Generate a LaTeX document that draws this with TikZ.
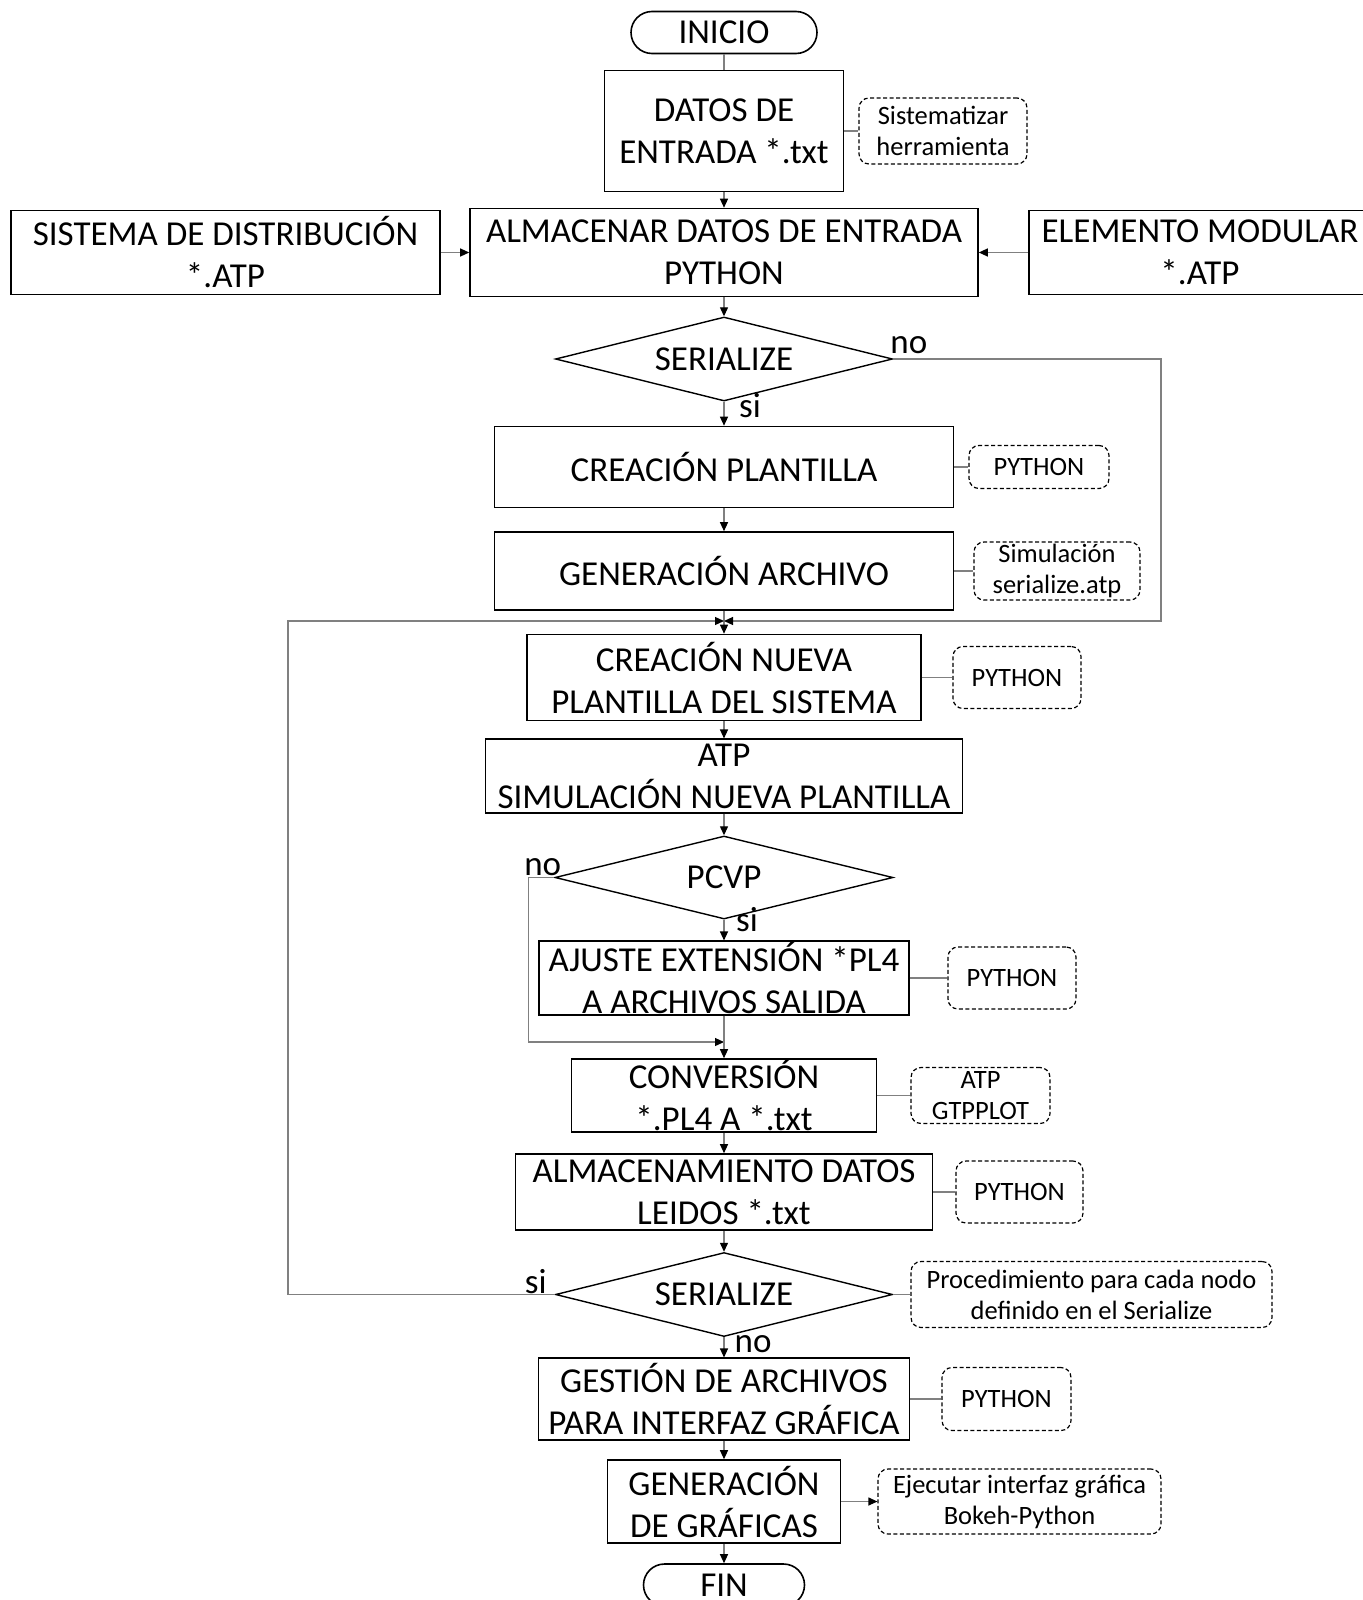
\documentclass[tikz,border=0pt]{standalone}
\usepackage{fontspec}
\setmainfont{Carlito}
\usetikzlibrary{shapes.geometric,arrows.meta}
\newcommand{\flowfont}{\fontsize{35}{42}\selectfont}
\newcommand{\notefont}{\fontsize{26.5}{31}\selectfont}
\begin{document}
\begin{tikzpicture}[x=1pt, y=-1pt, >={Triangle[length=9pt,width=8pt,color=black]},
  procbox/.style={draw, line width=1.6pt, align=center, inner sep=0pt, font=\flowfont},
  term/.style={procbox, rounded corners=21pt, minimum height=42pt},
  decision/.style={draw, diamond, aspect=4, line width=1.4pt, inner sep=0pt, minimum width=337pt, minimum height=84pt, font=\flowfont},
  note/.style={draw, line width=1.2pt, dash pattern=on 4pt off 2.5pt, rounded corners=10pt, align=center, inner sep=0pt, font=\notefont},
  link/.style={draw=black!50, line width=1.2pt},
  lbl/.style={inner sep=0pt, font=\flowfont}]
  \useasboundingbox (0,0) rectangle (1362,1600);
  % main column
  \node[term, minimum width=186pt] (inicio) at (724,32.5) {INICIO};
  \node[procbox, minimum width=239pt, minimum height=121pt] (datos) at (724,131) {DATOS DE\\ENTRADA *.txt};
  \node[procbox, minimum width=508pt, minimum height=88pt] (alm) at (724,252.5) {ALMACENAR DATOS DE ENTRADA\\PYTHON};
  \node[procbox, minimum width=429pt, minimum height=84pt] (distrib) at (225.5,252.5) {SISTEMA DE DISTRIBUCIÓN\\*.ATP};
  \node[procbox, minimum width=342pt, minimum height=84pt] (modular) at (1200,252.5) {ELEMENTO MODULAR\\*.ATP};
  \node[decision] (ser1) at (724,359) {SERIALIZE};
  \node[procbox, minimum width=459pt, minimum height=81pt] (plantilla) at (724,467) {CREACIÓN PLANTILLA};
  \node[procbox, minimum width=459pt, minimum height=78pt] (archivo) at (724,571) {GENERACIÓN ARCHIVO};
  \node[procbox, minimum width=394pt, minimum height=86pt] (nueva) at (724,677.5) {CREACIÓN NUEVA\\PLANTILLA DEL SISTEMA};
  \node[procbox, minimum width=477pt, minimum height=73.5pt] (atp) at (724,776) {ATP\\SIMULACIÓN NUEVA PLANTILLA};
  \node[decision, minimum width=338pt, minimum height=83pt] (pcvp) at (724,877.5) {PCVP};
  \node[procbox, minimum width=370pt, minimum height=73.5pt] (ajuste) at (724,978) {AJUSTE EXTENSIÓN *PL4\\A ARCHIVOS SALIDA};
  \node[procbox, minimum width=305pt, minimum height=73pt] (conv) at (724,1095.5) {CONVERSIÓN\\*.PL4 A *.txt};
  \node[procbox, minimum width=417pt, minimum height=76pt] (leidos) at (724,1192) {ALMACENAMIENTO DATOS\\LEIDOS *.txt};
  \node[decision] (ser2) at (724,1294.5) {SERIALIZE};
  \node[procbox, minimum width=371pt, minimum height=81.5pt] (gestion) at (724,1399) {GESTIÓN DE ARCHIVOS\\PARA INTERFAZ GRÁFICA};
  \node[procbox, minimum width=233pt, minimum height=83pt] (graficas) at (724,1501.5) {GENERACIÓN\\DE GRÁFICAS};
  \node[term, minimum width=161pt] (fin) at (724,1585) {FIN};
  % notes
  \node[note, minimum width=168pt, minimum height=66pt] (sist) at (943,131) {Sistematizar\\herramienta};
  \node[note, minimum width=140pt, minimum height=43pt] (py1) at (1039,467) {PYTHON};
  \node[note, minimum width=166pt, minimum height=58pt] (simul) at (1057,571) {Simulación\\serialize.atp};
  \node[note, minimum width=128pt, minimum height=62pt] (py2) at (1017,677.5) {PYTHON};
  \node[note, minimum width=128pt, minimum height=62pt] (py3) at (1012,978) {PYTHON};
  \node[note, minimum width=139pt, minimum height=56pt] (gtp) at (980.5,1095.5) {ATP\\GTPPLOT};
  \node[note, minimum width=127pt, minimum height=62pt] (py4) at (1019.5,1192) {PYTHON};
  \node[note, minimum width=361pt, minimum height=66pt] (procnodo) at (1091.5,1294.5) {Procedimiento para cada nodo\\definido en el Serialize};
  \node[note, minimum width=129pt, minimum height=63pt] (py5) at (1006.5,1399) {PYTHON};
  \node[note, minimum width=283pt, minimum height=65pt] (bokeh) at (1019.5,1501.5) {Ejecutar interfaz gráfica\\Bokeh-Python};
  % labels
  \node[lbl, anchor=base west] (no1) at ([xshift=-3pt, yshift=6pt]ser1.east) {no};
  \node[lbl, anchor=base west] (si1) at ([xshift=15pt, yshift=-16pt]ser1.south) {si};
  \node[lbl, anchor=base east] (no2) at ([xshift=7pt, yshift=2.5pt]pcvp.west) {no};
  \node[lbl, anchor=base west] (si2) at ([xshift=12pt, yshift=-12pt]pcvp.south) {si};
  \node[lbl, anchor=base east] (si3) at ([xshift=-8pt, yshift=1.5pt]ser2.west) {si};
  \node[lbl, anchor=base west] (no3) at ([xshift=10.5pt, yshift=-15.5pt]ser2.south) {no};
  % turning points
  \coordinate (jn) at (724,621);
  \coordinate (rturn) at (1161,621);
  \coordinate (lturn) at (288,621);
  \coordinate (pjn) at (724,1042);
  \coordinate (pturn) at (528.7,1042);
  % connectors
  \draw[link] (inicio) -- (datos);
  \draw[link, ->] (datos) -- (alm);
  \draw[link, ->] (distrib) -- (alm);
  \draw[link, ->] (modular) -- (alm);
  \draw[link, ->] (alm) -- (ser1);
  \draw[link, ->] (ser1) -- (plantilla);
  \draw[link, ->] (plantilla) -- (archivo);
  \draw[link, ->] (archivo) -- (nueva);
  \draw[link, ->] (ser1.east) -| (rturn) -- (jn);
  \draw[link, ->] (ser2.west) -| (lturn) -- (jn);
  \draw[link, ->] (nueva) -- (atp);
  \draw[link, ->] (atp) -- (pcvp);
  \draw[link, ->] (pcvp) -- (ajuste);
  \draw[link, ->] (pcvp.west) -| (pturn) -- (pjn);
  \draw[link, ->] (ajuste) -- (conv);
  \draw[link, ->] (conv) -- (leidos);
  \draw[link, ->] (leidos) -- (ser2);
  \draw[link, ->] (ser2) -- (gestion);
  \draw[link, ->] (gestion) -- (graficas);
  \draw[link, ->] (graficas) -- (fin);
  \draw[link, ->] (graficas) -- (bokeh);
  \draw[link] (datos) -- (sist);
  \draw[link] (plantilla) -- (py1);
  \draw[link] (archivo) -- (simul);
  \draw[link] (nueva) -- (py2);
  \draw[link] (ajuste) -- (py3);
  \draw[link] (conv) -- (gtp);
  \draw[link] (leidos) -- (py4);
  \draw[link] (ser2) -- (procnodo);
  \draw[link] (gestion) -- (py5);
\end{tikzpicture}
\end{document}
